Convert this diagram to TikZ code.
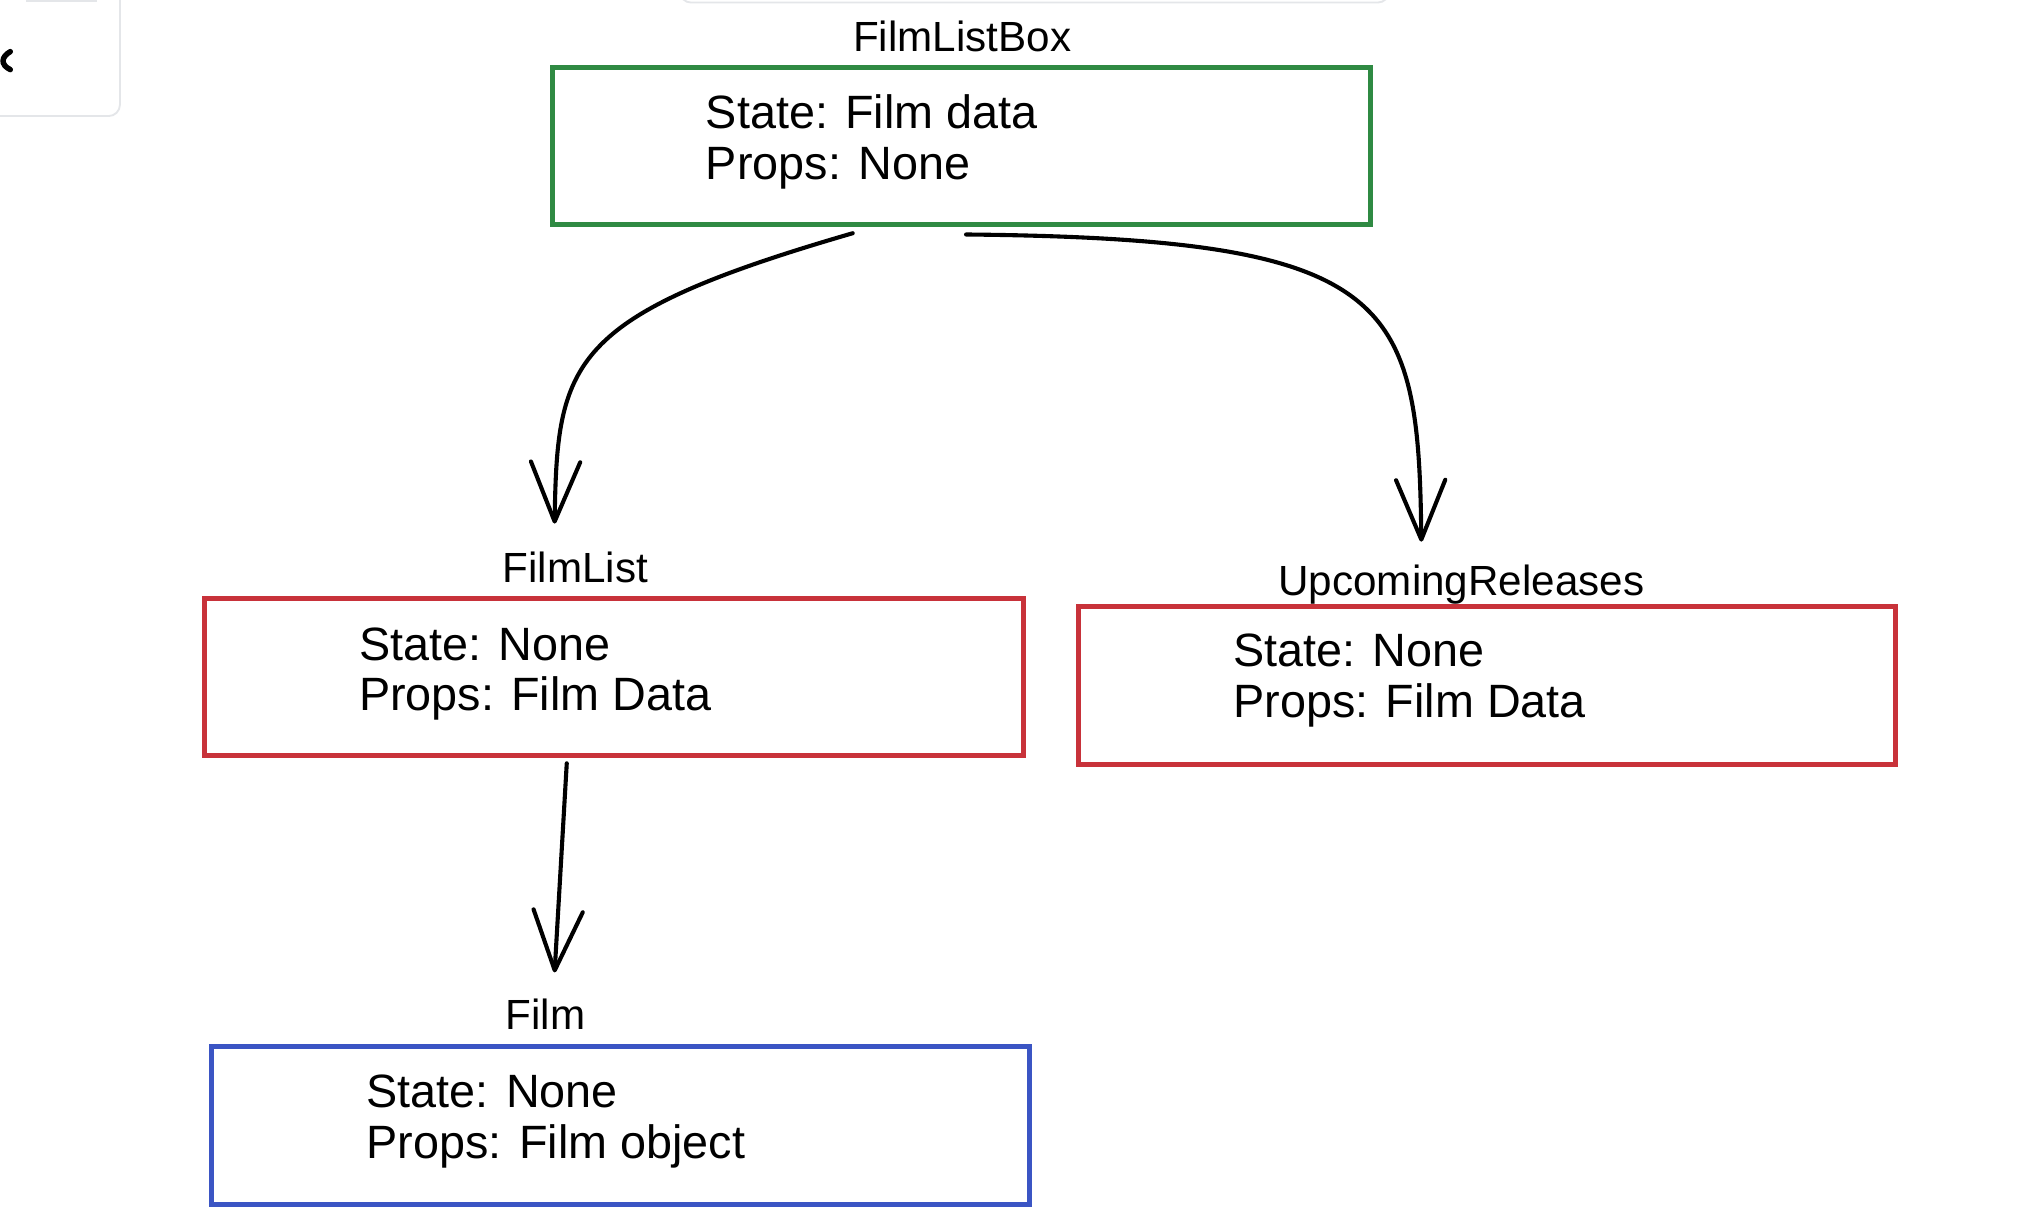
\documentclass[tikz,border=0pt]{standalone}
\usepackage{fontspec}
\setmainfont{Liberation Sans}
\usetikzlibrary{arrows.meta,calc}
\definecolor{boxgreen}{HTML}{2F8A43}
\definecolor{boxred}{HTML}{C8323A}
\definecolor{boxblue}{HTML}{3B55C4}
\definecolor{uigray}{HTML}{E4E6E9}
\begin{document}
\begin{tikzpicture}[x=0.01988cm,y=-0.01988cm,
  box/.style={draw, line width=2.2pt, inner sep=0pt, minimum height=2.42cm},
  lbl/.style={font=\fontsize{18.5}{22}\selectfont, inner sep=0pt, anchor=base},
  body/.style={font=\fontsize{20.5}{24}\selectfont, inner sep=0pt, anchor=base west},
  conn/.style={line width=1.8pt, line cap=round,
    -{Straight Barb[length=0.92cm,width=0.76cm,line width=1.8pt,round]}},
  uicard/.style={draw=uigray, fill=white, line width=0.8pt, rounded corners=5pt}]
\useasboundingbox[fill=white] (0cm,0cm) rectangle (31.2cm,-18.9cm);
% UI artefacts
\draw[uicard] (-30,-30) rectangle (93,90);
\fill[uigray] (20,-5) rectangle (75,1.5);
\draw[line width=2.4pt, line cap=round] (8,40) .. controls (1,44) and (0,50) .. (8,54);
\draw[uicard] (527,-30) rectangle (1077,2);
% boxes
\node[box, draw=boxgreen, minimum width=12.62cm] (flb) at (745.5,113) {};
\node[box, draw=boxred, minimum width=12.63cm] (fl) at (476,525) {};
\node[box, draw=boxred, minimum width=12.6cm, minimum height=2.44cm] (ur) at (1153,531.5) {};
\node[box, draw=boxblue, minimum width=12.6cm, minimum height=2.44cm] (film) at (481,872.5) {};
% labels
\node[lbl] (flbL) at (746,40) {FilmListBox};
\node[lbl] (flL) at (446,452) {FilmList};
\node[lbl] (urL) at (1133,462) {UpcomingReleases};
\node[lbl] (filmL) at (423,798) {Film};
% body texts
\node[body] (flbS) at (547,100) {State: Film data};
\node[body] (flbP) at (547,139) {Props: None};
\node[body] (flS) at (278,512) {State: None};
\node[body] (flP) at (278,551) {Props: Film Data};
\node[body] (urS) at (956,517) {State: None};
\node[body] (urP) at (956,556) {Props: Film Data};
\node[body] (filmS) at (284,859) {State: None};
\node[body] (filmP) at (284,898) {Props: Film object};
% connectors
\coordinate (a1s) at ($(flb.south west)+(235,5)$);
\coordinate (a1e) at ($(flL.north)+(-16,-22)$);
\coordinate (a2s) at ($(flb.south)+(3.5,6)$);
\coordinate (a2e) at ($(urL.north)+(-31,-18)$);
\coordinate (a3s) at ($(fl.south west)+(283,4)$);
\coordinate (a3e) at ($(filmL.north)+(7,-20)$);
\draw[conn] (a1s) .. controls (440,245) and (432,280) .. (a1e);
\draw[conn] (a2s) .. controls (1080,185) and (1100,230) .. (a2e);
\draw[conn] (a3s) -- (a3e);
\end{tikzpicture}
\end{document}
